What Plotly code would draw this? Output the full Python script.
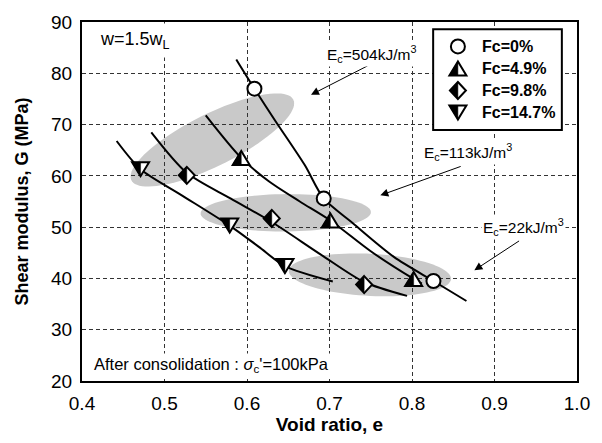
import numpy as np
import plotly.graph_objects as go

FONT = "Liberation Sans, Arial, sans-serif"

# ---- axes ----
X_RANGE = [0.4, 1.0]
Y_RANGE = [20, 90]
x_ticks = [0.4, 0.5, 0.6, 0.7, 0.8, 0.9, 1.0]
y_ticks = [20, 30, 40, 50, 60, 70, 80, 90]

# ---- measured points (void ratio e, shear modulus G) ----
series_names = ["Fc=0%", "Fc=4.9%", "Fc=9.8%", "Fc=14.7%"]
e_fc0 = [0.609, 0.693, 0.826]
g_fc0 = [77.0, 55.6, 39.5]
e_fc49 = [0.593, 0.701, 0.802]
g_fc49 = [63.5, 51.3, 39.9]
e_fc98 = [0.527, 0.630, 0.742]
g_fc98 = [60.1, 51.7, 38.8]
e_fc147 = [0.471, 0.579, 0.646]
g_fc147 = [61.3, 50.3, 42.4]

# ---- trend curves ----
ce_fc0 = [0.587, 0.609, 0.634, 0.670, 0.693, 0.728, 0.778, 0.826, 0.866]
cg_fc0 = [82.7, 77.0, 70.8, 62.1, 55.6, 50.8, 44.2, 39.5, 35.6]
ce_fc49 = [0.550, 0.593, 0.626, 0.664, 0.701, 0.750, 0.802, 0.812]
cg_fc49 = [71.8, 63.5, 59.0, 55.0, 51.3, 45.3, 39.9, 39.0]
ce_fc98 = [0.484, 0.527, 0.580, 0.630, 0.690, 0.742, 0.794]
cg_fc98 = [68.5, 60.6, 55.6, 51.0, 44.6, 39.3, 36.6]
ce_fc147 = [0.442, 0.471, 0.518, 0.579, 0.614, 0.646, 0.704]
cg_fc147 = [66.8, 61.3, 56.5, 50.3, 46.2, 42.4, 39.4]

# ---- shaded zones for compaction energy (centre in data, axes in px, tilt in deg) ----
zone_labels = ["E<sub>c</sub>=504kJ/m<sup>3</sup>", "E<sub>c</sub>=113kJ/m<sup>3</sup>",
               "E<sub>c</sub>=22kJ/m<sup>3</sup>"]
zone_cx = [0.558, 0.647, 0.749]
zone_cy = [67.0, 52.8, 40.7]
zone_a = [92, 86, 82]
zone_b = [27, 19.5, 22]
zone_tilt = [27.4, 0.5, -3.0]
# label anchor (left edge, middle) and arrow tail / head
label_x = [0.694, 0.8116, 0.8836]
label_y = [83.84, 64.6, 50.0]
arrow_tail_x = [0.748, 0.8608, 0.9316]
arrow_tail_y = [81.6, 61.94, 47.5]
arrow_head_x = [0.6776, 0.7616, 0.8756]
arrow_head_y = [75.81, 56.2, 41.6]

W, H = 602, 443
M = dict(l=82, r=20, t=14, b=54)
PW = W - M["l"] - M["r"]
PH = H - M["t"] - M["b"]
XS = PW / (X_RANGE[1] - X_RANGE[0])
YS = PH / (Y_RANGE[1] - Y_RANGE[0])

fig = go.Figure()

shapes = []

# shaded ellipses
for cx, cy, a, b, tilt in zip(zone_cx, zone_cy, zone_a, zone_b, zone_tilt):
    th = np.radians(tilt)
    t = np.linspace(0, 2 * np.pi, 90)
    dx = a * np.cos(th) * np.cos(t) - b * np.sin(th) * np.sin(t)
    dy = a * np.sin(th) * np.cos(t) + b * np.cos(th) * np.sin(t)
    xs = cx + dx / XS
    ys = cy + dy / YS
    path = "M " + " L ".join(f"{x:.5f},{y:.4f}" for x, y in zip(xs, ys)) + " Z"
    shapes.append(dict(type="path", xref="x", yref="y", path=path,
                       fillcolor="#c9c9c9", line=dict(width=0), layer="below"))

# trend curves
for ce, cg in [(ce_fc0, cg_fc0), (ce_fc49, cg_fc49), (ce_fc98, cg_fc98), (ce_fc147, cg_fc147)]:
    fig.add_trace(go.Scatter(x=ce, y=cg, mode="lines",
                             line=dict(color="black", width=2, shape="spline", smoothing=0.8),
                             showlegend=False, hoverinfo="skip"))

# open circles
fig.add_trace(go.Scatter(x=e_fc0, y=g_fc0, mode="markers", name=series_names[0],
                         marker=dict(symbol="circle", size=14, color="white",
                                     line=dict(color="black", width=2)),
                         showlegend=False))

# half-filled marker glyphs (pixel paths, y up)
TW, TH = 17, 14
DW, DH = 16, 17


def glyph(kind):
    if kind == "up":
        full = f"M 0,{TH/2} L {-TW/2},{-TH/2} L {TW/2},{-TH/2} Z"
        half = f"M 0,{TH/2} L {-TW/2},{-TH/2} L 0,{-TH/2} Z"
    elif kind == "down":
        full = f"M 0,{-TH/2} L {-TW/2},{TH/2} L {TW/2},{TH/2} Z"
        half = f"M 0,{-TH/2} L {-TW/2},{TH/2} L 0,{TH/2} Z"
    else:
        full = f"M 0,{DH/2} L {DW/2},0 L 0,{-DH/2} L {-DW/2},0 Z"
        half = f"M 0,{DH/2} L {-DW/2},0 L 0,{-DH/2} Z"
    return full, half


def add_glyph(kind, xa, ya, xref, yref):
    full, half = glyph(kind)
    common = dict(type="path", xref=xref, yref=yref, xsizemode="pixel", ysizemode="pixel",
                  xanchor=xa, yanchor=ya, layer="above")
    shapes.append(dict(path=full, fillcolor="white", line=dict(color="black", width=2), **common))
    shapes.append(dict(path=half, fillcolor="black", line=dict(color="black", width=0.5), **common))


for kind, es, gs in [("up", e_fc49, g_fc49), ("diamond", e_fc98, g_fc98), ("down", e_fc147, g_fc147)]:
    for e, g in zip(es, gs):
        add_glyph(kind, e, g, "x", "y")

# legend box
def px_x(px):
    return (px - M["l"]) / PW


def px_y(py):
    return (H - M["b"] - py) / PH


shapes.append(dict(type="rect", xref="paper", yref="paper",
                   x0=px_x(436.7), x1=px_x(566.7), y0=px_y(126.7), y1=px_y(21.7),
                   fillcolor="white", line=dict(color="black", width=2), layer="above"))
leg_rows = [39.5, 62.5, 85.5, 108.5]
leg_mx = px_x(461.7)
shapes.append(dict(type="circle", xref="paper", yref="paper", xsizemode="pixel", ysizemode="pixel",
                   xanchor=leg_mx, yanchor=px_y(leg_rows[0]), x0=-7, x1=7, y0=-7, y1=7,
                   fillcolor="white", line=dict(color="black", width=2), layer="above"))
for kind, ry in zip(["up", "diamond", "down"], leg_rows[1:]):
    add_glyph(kind, leg_mx, px_y(ry), "paper", "paper")

annotations = []
for name, ry in zip(series_names, leg_rows):
    annotations.append(dict(xref="paper", yref="paper", x=px_x(484), y=px_y(ry),
                            text=f"<b>{name}</b>", showarrow=False, xanchor="left", yanchor="middle",
                            font=dict(family=FONT, size=16, color="black")))

# compaction-energy labels and arrows
for i in range(3):
    annotations.append(dict(x=arrow_head_x[i], y=arrow_head_y[i], ax=arrow_tail_x[i], ay=arrow_tail_y[i],
                            xref="x", yref="y", axref="x", ayref="y", text="", showarrow=True,
                            arrowhead=2, arrowsize=1.6, arrowwidth=1, arrowcolor="black", standoff=0))
    annotations.append(dict(x=label_x[i], y=label_y[i], xref="x", yref="y", text=zone_labels[i],
                            showarrow=False, xanchor="left", yanchor="middle", bgcolor="white",
                            borderpad=1, font=dict(family=FONT, size=15.5, color="black")))

annotations.append(dict(x=px_x(94), y=px_y(33), xref="paper", yref="paper",
                        text="w=1.5w<sub>L</sub>", showarrow=False, xanchor="left", yanchor="middle",
                        bgcolor="white", borderpad=5, font=dict(family=FONT, size=18, color="black")))
annotations.append(dict(x=px_x(92), y=px_y(372), xref="paper", yref="paper",
                        text="After consolidation : <i>σ</i><sub>c</sub>'=100kPa", showarrow=False,
                        xanchor="left", yanchor="middle", bgcolor="white", borderpad=1,
                        font=dict(family=FONT, size=16.5, color="black")))

axis_common = dict(showline=True, linecolor="black", linewidth=2, mirror=True,
                   showgrid=True, gridcolor="#333333", gridwidth=1, griddash="4px,3px",
                   zeroline=False, ticks="outside", ticklen=4, tickcolor="rgba(0,0,0,0)",
                   tickfont=dict(family=FONT, size=19, color="black"))

fig.update_layout(
    width=W, height=H, autosize=False, margin=M,
    paper_bgcolor="white", plot_bgcolor="white",
    showlegend=False,
    shapes=shapes, annotations=annotations,
    xaxis=dict(range=X_RANGE, tickvals=x_ticks, ticktext=[f"{v:.1f}" for v in x_ticks],
               title=dict(text="<b>Void ratio, e</b>", standoff=4,
                          font=dict(family=FONT, size=19, color="black")),
               **axis_common),
    yaxis=dict(range=Y_RANGE, tickvals=y_ticks,
               title=dict(text="<b>Shear modulus, G (MPa)</b>", standoff=18,
                          font=dict(family=FONT, size=18, color="black")),
               **axis_common),
)

fig.write_html("out.html")
